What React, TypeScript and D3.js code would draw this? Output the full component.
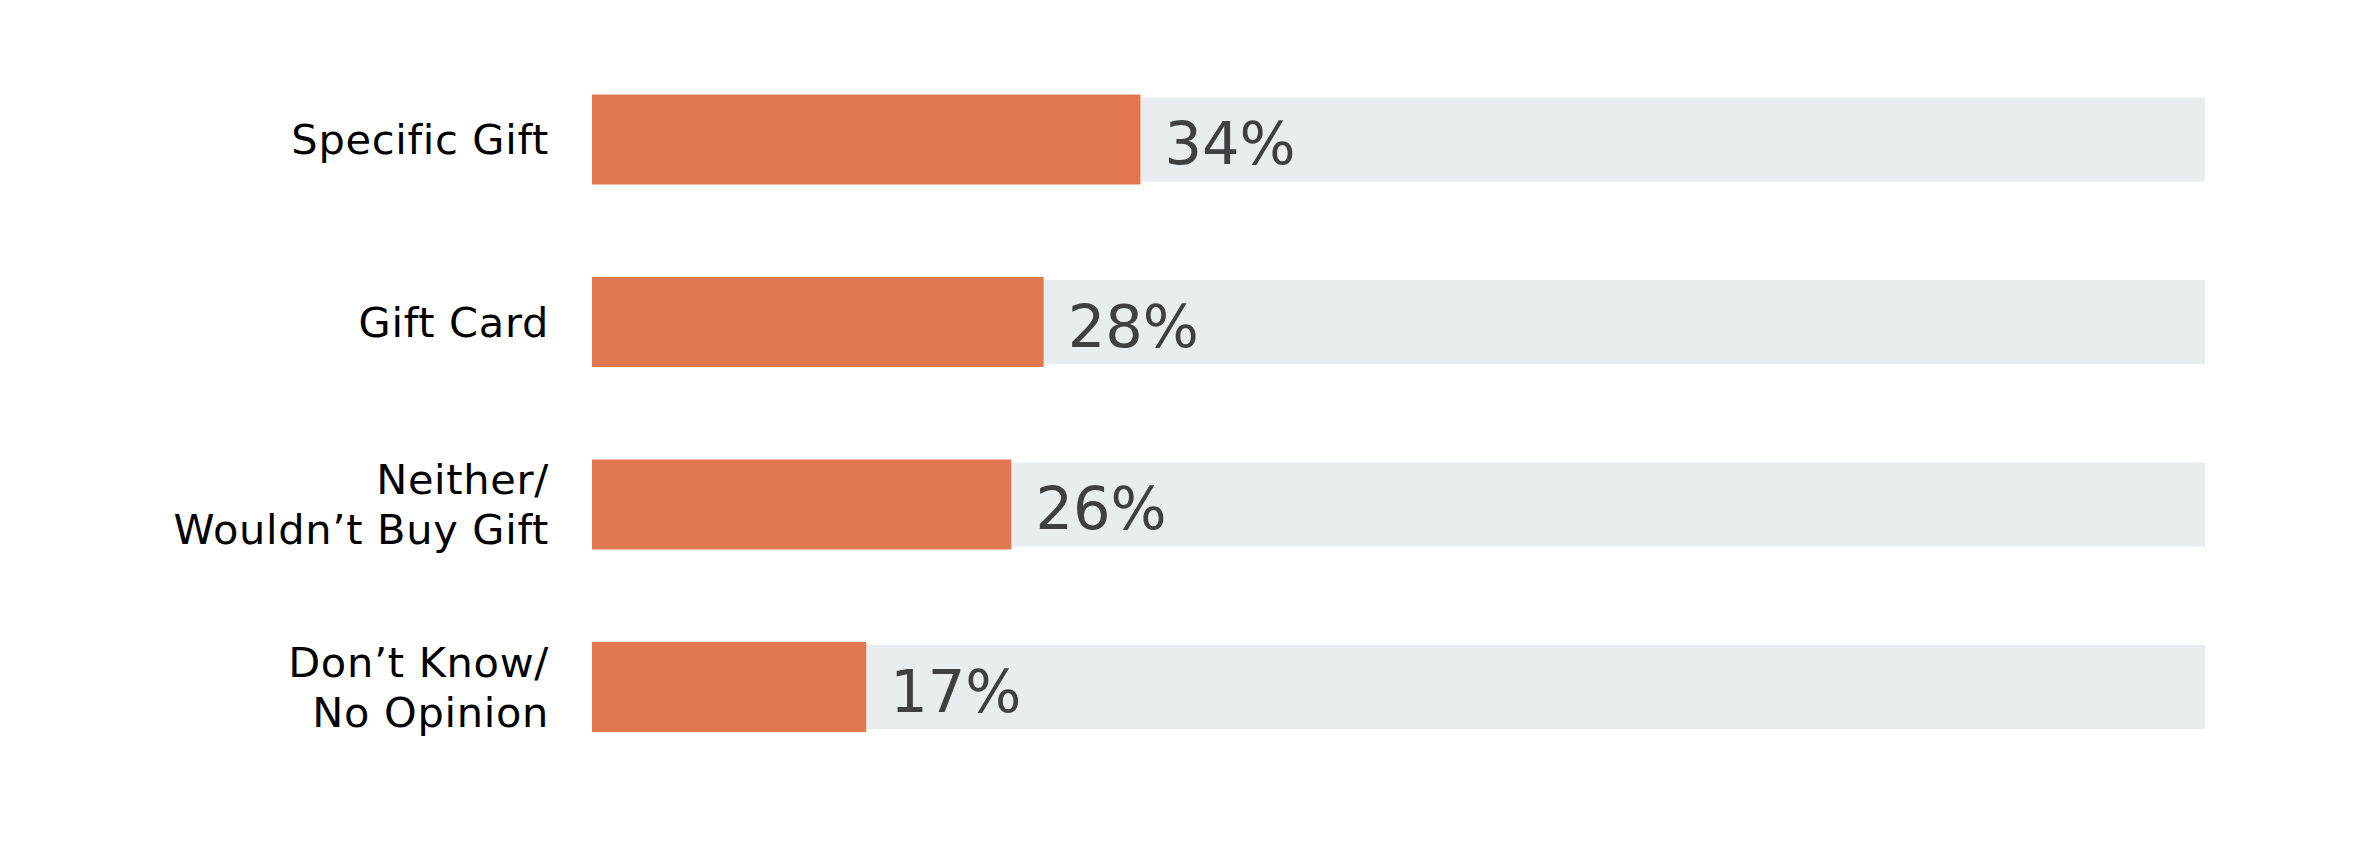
import React, { useEffect, useRef } from "react";
import * as d3 from "d3";

const categories: string[] = [
  "Specific Gift",
  "Gift Card",
  "Neither/\nWouldn\u2019t Buy Gift",
  "Don\u2019t Know/\nNo Opinion",
];
const values: number[] = [34, 28, 26, 17];
const maxValue = 100;

const W = 2362;
const H = 844;

export default function App() {
  const ref = useRef<SVGSVGElement | null>(null);

  useEffect(() => {
    document.body.style.margin = "0";
    const svg = d3.select(ref.current);
    svg.selectAll("*").remove();

    const x = d3.scaleLinear().domain([0, maxValue]).range([592, 2205]);
    const y = d3.scaleBand<string>().domain(categories).range([48.25, 778.25]).padding(0);
    const bw = y.bandwidth();
    const fgH = bw * 0.493;
    const bgH = bw * 0.46;

    const rows = categories.map((c, i) => ({ c, v: values[i] }));

    const g = svg.append("g");
    const row = g
      .selectAll("g.row")
      .data(rows)
      .join("g")
      .attr("class", "row")
      .attr("transform", (d) => `translate(0,${(y(d.c) as number) + bw / 2})`);

    row
      .append("rect")
      .attr("x", x(0))
      .attr("y", -bgH / 2)
      .attr("width", x(maxValue) - x(0))
      .attr("height", bgH)
      .attr("fill", "#E8EDF0");

    row
      .append("rect")
      .attr("x", x(0))
      .attr("y", -fgH / 2)
      .attr("width", (d) => x(d.v) - x(0))
      .attr("height", fgH)
      .attr("fill", "#E1774E");

    row
      .append("text")
      .attr("x", (d) => x(d.v) + 24)
      .attr("y", 24.5)
      .attr("font-family", "'DejaVu Sans', sans-serif")
      .attr("font-size", 59)
      .attr("fill", "#404040")
      .text((d) => `${d.v}%`);

    const lab = row
      .append("text")
      .attr("text-anchor", "end")
      .attr("font-family", "'DejaVu Sans', sans-serif")
      .attr("font-size", 41.5)
      .attr("letter-spacing", 0.7)
      .attr("fill", "#000000");

    lab.each(function (d) {
      const lines = d.c.split("\n");
      const t = d3.select(this);
      const lh = 50;
      const start = 14.5 - ((lines.length - 1) * lh) / 2;
      lines.forEach((ln, i) => {
        t.append("tspan")
          .attr("x", 549)
          .attr("y", start + i * lh)
          .text(ln);
      });
    });
  }, []);

  return (
    <div style={{ position: "absolute", left: 0, top: 0 }}>
      <svg ref={ref} width={W} height={H} style={{ display: "block", background: "#ffffff" }} />
    </div>
  );
}
